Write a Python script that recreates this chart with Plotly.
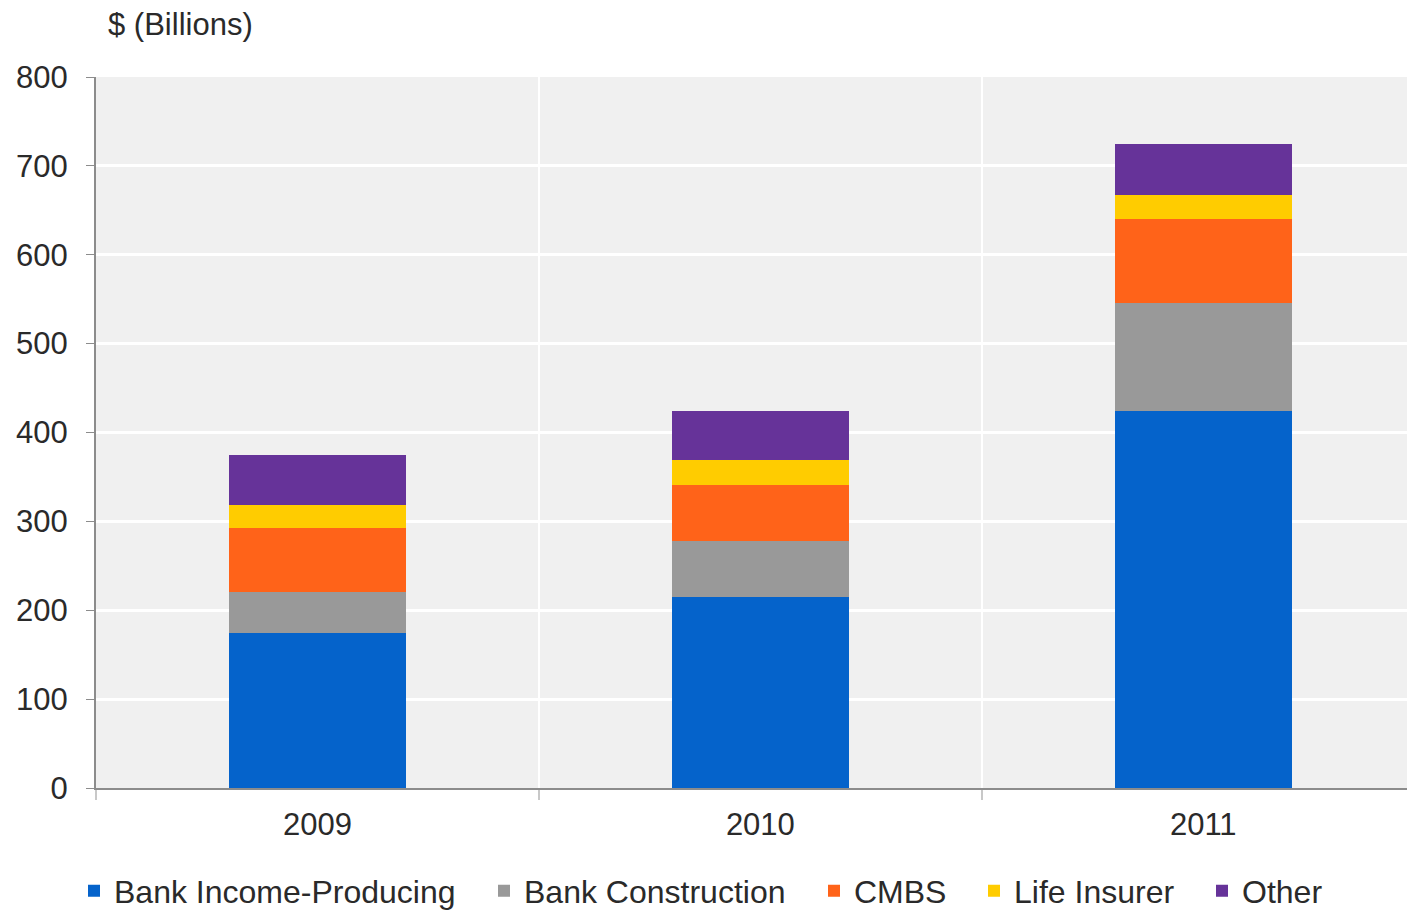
import plotly.graph_objects as go

# Commercial real estate debt maturities by lender type ($ billions)
years = ["2009", "2010", "2011"]
bank_income = [174, 215, 424]
bank_construction = [46, 63, 122]
cmbs = [72, 63, 94]
life_insurer = [26, 28, 27]
other = [57, 55, 58]

series_names = ["Bank Income-Producing", "Bank Construction", "CMBS", "Life Insurer", "Other"]
series_values = [bank_income, bank_construction, cmbs, life_insurer, other]
series_colors = ["#0563CB", "#999999", "#FF6319", "#FFCC00", "#663399"]

y_ticks = [0, 100, 200, 300, 400, 500, 600, 700, 800]

FONT = "Liberation Sans, Arial, sans-serif"
TEXT = "#2a2a2a"

# each series gets its own legend box so the entries can sit at fixed spots
legend_ids = ["legend", "legend2", "legend3", "legend4", "legend5"]
legend_left_px = [74, 484, 814, 974, 1202]

fig = go.Figure()
for name, vals, col, lid in zip(series_names, series_values, series_colors, legend_ids):
    fig.add_trace(go.Bar(
        x=years, y=vals, name=name,
        marker=dict(color=col, line=dict(width=0)),
        width=0.40,
        legend=lid,
    ))

legend_layout = {}
for lid, px in zip(legend_ids, legend_left_px):
    legend_layout[lid] = dict(
        orientation="h",
        xref="container", yref="paper",
        x=px / 1407, xanchor="left",
        y=(788 - 891) / 711, yanchor="middle",
        font=dict(size=32, color=TEXT),
        itemwidth=30,
        bgcolor="rgba(0,0,0,0)",
    )

fig.update_layout(
    barmode="stack",
    width=1407, height=912,
    margin=dict(l=96, r=0, t=77, b=124, pad=0, autoexpand=False),
    paper_bgcolor="white",
    plot_bgcolor="#F0F0F0",
    font=dict(family=FONT, size=31, color=TEXT),
    showlegend=True,
    xaxis=dict(
        type="category",
        range=[-0.5, 2.46],
        tickson="boundaries",
        showgrid=True, gridcolor="white", gridwidth=2,
        showline=True, linecolor="#8c8c8c", linewidth=2,
        ticks="outside", ticklen=10, tickcolor="#c8c8c8", tickwidth=2,
        ticklabelstandoff=8,
        tickfont=dict(size=31, color=TEXT),
        zeroline=False,
        automargin=False,
    ),
    yaxis=dict(
        range=[0, 800],
        tickvals=y_ticks,
        showgrid=True, gridcolor="white", gridwidth=3,
        showline=True, linecolor="#8c8c8c", linewidth=2,
        ticks="outside", ticklen=8, tickcolor="#8c8c8c", tickwidth=1,
        ticklabelstandoff=12,
        tickfont=dict(size=31, color=TEXT),
        zeroline=False,
        automargin=False,
    ),
    annotations=[dict(
        text="$ (Billions)", xref="paper", yref="paper",
        x=0.008, y=(788 - 25) / 711, xanchor="left", yanchor="middle",
        showarrow=False, font=dict(size=31, color=TEXT),
    )],
    **legend_layout,
)

fig.write_html("out.html")
